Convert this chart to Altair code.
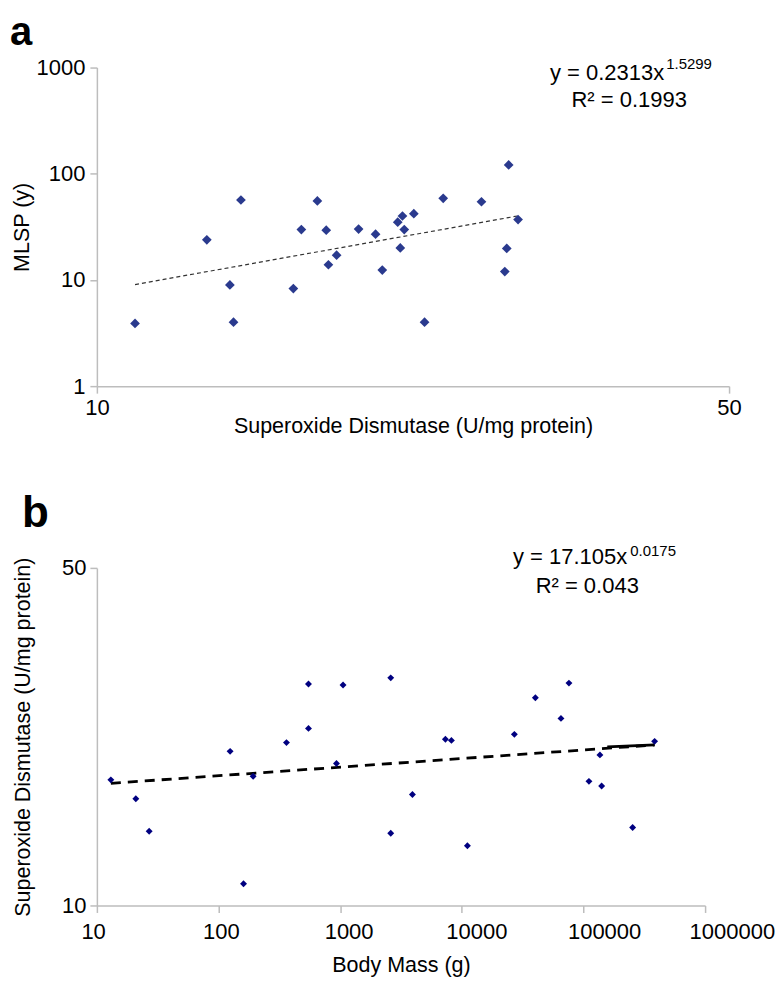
import altair as alt
import pandas as pd

FONT = "Liberation Sans"

# ---------- Panel a : MLSP vs SOD ----------
sod_a = [11.02, 13.23, 14.43, 14.03, 14.16, 16.49, 16.83, 17.53, 17.93, 18.03,
         18.41, 19.47, 20.33, 20.68, 21.51, 21.77, 21.87, 21.65, 22.41, 23.03,
         24.15, 26.62, 28.53, 29.22, 28.39, 28.25]
mlsp_a = [3.89, 23.9, 56.6, 8.98, 4.0, 8.29, 29.8, 55.4, 29.4, 13.9,
          17.1, 30.1, 27.0, 12.4, 35.0, 40.0, 29.8, 20.0, 42.1, 4.0,
          58.7, 54.5, 121.2, 37.0, 19.8, 12.0]
trend_a_x = [11.02, 29.22]
trend_a_y = [9.05, 40.1]

# ---------- Panel b : SOD vs body mass ----------
mass_b = [13.03, 20.9, 26.9, 124.5, 160.5, 192.5, 362, 549, 549, 932.6,
          1056, 2605, 2605, 3927, 11117, 7333, 8212, 27049, 40250, 65340,
          76000, 136600, 111000, 141100, 253700, 384600]
sod_b = [18.2, 16.63, 14.25, 20.85, 11.09, 18.51, 21.74, 28.74, 23.26, 19.67,
         28.6, 29.6, 14.11, 16.97, 13.29, 22.08, 21.97, 22.61, 26.93, 24.4,
         28.87, 20.5, 18.07, 17.68, 14.5, 21.87]
trend_b_x = [13.03, 384600]
trend_b_y = [17.9, 21.5]
trend_b_solid_x = [157000, 384600]
trend_b_solid_y = [21.3, 21.5]

ticks_a_x = [10, 50]
ticks_a_y = [1, 10, 100, 1000]
ticks_b_x = [10, 100, 1000, 10000, 100000, 1000000]
ticks_b_y = [10, 50]

df_a = pd.DataFrame({"sod": sod_a, "mlsp": mlsp_a})
df_ta = pd.DataFrame({"sod": trend_a_x, "mlsp": trend_a_y})
df_b = pd.DataFrame({"mass": mass_b, "sod": sod_b})
df_tb = pd.DataFrame({"mass": trend_b_x, "sod": trend_b_y})
df_tbs = pd.DataFrame({"mass": trend_b_solid_x, "sod": trend_b_solid_y})

WA, HA = 633, 319
WB, HB = 609, 338

xa = alt.X("sod:Q", scale=alt.Scale(type="log", domain=[10, 50], nice=False),
           axis=alt.Axis(values=ticks_a_x, format="d", labelFlush=False,
                         title="Superoxide Dismutase (U/mg protein)",
                         titleX=WA / 2, titleY=40, titleBaseline="middle",
                         tickSize=7, labelPadding=4))
ya = alt.Y("mlsp:Q", scale=alt.Scale(type="log", domain=[1, 1000], nice=False),
           axis=alt.Axis(values=ticks_a_y, format="d", title="MLSP (y)",
                         labelFlush=False,
                         titleX=-74, titleY=HA / 2, titleBaseline="middle",
                         titleAlign="center", titleAngle=-90,
                         tickSize=7, labelPadding=5))

pts_a = alt.Chart(df_a).mark_point(shape="diamond", filled=True, size=95,
                                   color="#2a3a8e", opacity=1).encode(x=xa, y=ya)
line_a = alt.Chart(df_ta).mark_line(color="#333333", strokeWidth=1.2,
                                    strokeDash=[4, 3]).encode(x="sod:Q", y="mlsp:Q")

def txt(s, x, y, size=22, align="center", weight="normal", baseline="middle"):
    return alt.Chart(pd.DataFrame({"t": [s]})).mark_text(
        font=FONT, fontSize=size, align=align, baseline=baseline,
        fontWeight=weight, color="black").encode(
        x=alt.value(x), y=alt.value(y), text="t:N")

eq_a = [
    txt("y = 0.2313x", 568, 5, align="right"),
    txt("1.5299", 570, -4, size=15, align="left"),
    txt("R² = 0.1993", 533, 32),
    txt("a", -87, -23, size=40, align="left", weight="bold", baseline="alphabetic"),
]

chart_a = alt.layer(line_a, pts_a, *eq_a).properties(width=WA, height=HA)

xb = alt.X("mass:Q", scale=alt.Scale(type="log", domain=[10, 1000000], nice=False),
           axis=alt.Axis(values=ticks_b_x, format="d", title="Body Mass (g)",
                         labelFlush=False, labelAlign="left", labelOffset=-16,
                         titleX=WB / 2, titleY=60, titleBaseline="middle",
                         tickSize=7, labelPadding=9))
yb = alt.Y("sod:Q", scale=alt.Scale(type="log", domain=[10, 50], nice=False),
           axis=alt.Axis(values=ticks_b_y, format="d", labelFlush=False,
                         title="Superoxide Dismutase (U/mg protein)",
                         titleX=-73, titleY=HB / 2, titleBaseline="middle",
                         titleAlign="center", titleAngle=-90,
                         tickSize=7, labelPadding=4))

pts_b = alt.Chart(df_b).mark_point(shape="diamond", filled=True, size=48,
                                   color="#000080", opacity=1).encode(x=xb, y=yb)
line_b = alt.Chart(df_tb).mark_line(color="black", strokeWidth=2.8,
                                    strokeDash=[10, 7]).encode(x="mass:Q", y="sod:Q")
line_bs = alt.Chart(df_tbs).mark_line(color="black", strokeWidth=2.8).encode(
    x="mass:Q", y="sod:Q")

eq_b = [
    txt("y = 17.105x", 531, -11, align="right"),
    txt("0.0175", 534, -17, size=15, align="left"),
    txt("R² = 0.043", 491, 18),
    txt("b", -75, -41, size=44, align="left", weight="bold", baseline="alphabetic"),
]

chart_b = alt.layer(line_b, line_bs, pts_b, *eq_b).properties(width=WB, height=HB)

chart = alt.vconcat(chart_a, chart_b, spacing=55).properties(
    padding={"left": 2, "top": 4, "right": 0, "bottom": 0}
).configure_view(stroke=None).configure_axis(
    grid=False, domainColor="#bdbdbd", tickColor="#bdbdbd",
    domainWidth=1.5, tickWidth=1.5,
    labelFont=FONT, labelFontSize=22, labelColor="black",
    titleFont=FONT, titleFontSize=21.5, titleFontWeight="normal", titleColor="black",
)

chart.save("out.html", embed_options={"renderer": "svg", "actions": False})
